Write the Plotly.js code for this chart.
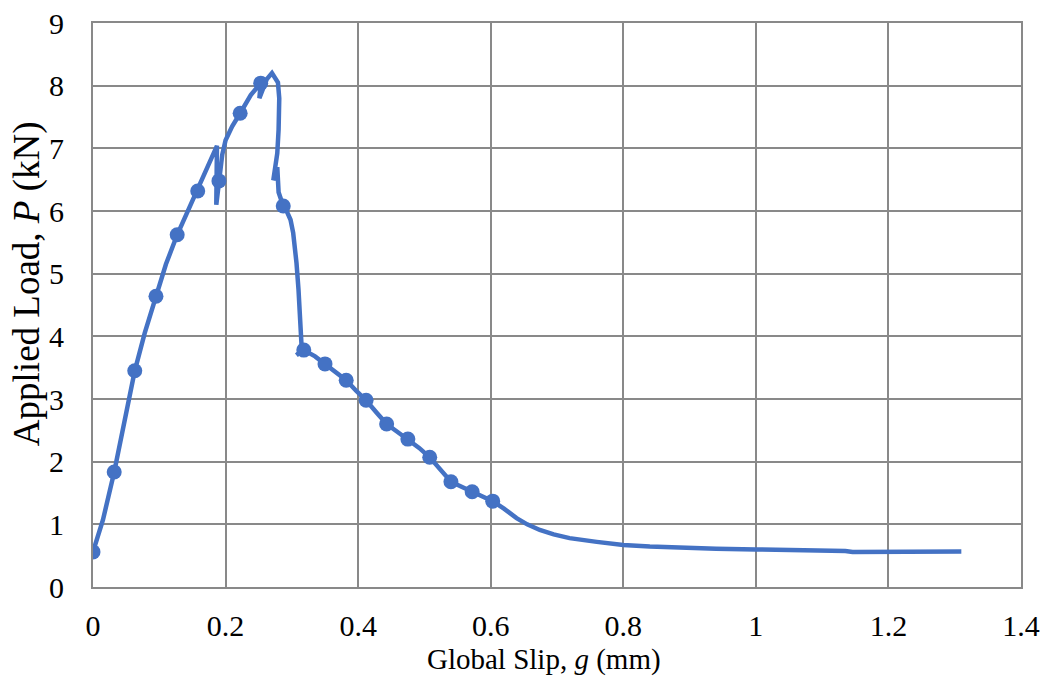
<!DOCTYPE html>
<html>
<head>
<meta charset="utf-8">
<script src="https://cdn.plot.ly/plotly-3.0.1.min.js"></script>
<style>html,body{margin:0;padding:0;background:#fff;}#chart{width:1047px;height:679px;}</style>
</head>
<body>
<div id="chart"></div>
<script>
// Measured curve: global slip (mm) and applied load (kN)
var slipLine = [0, 0.015, 0.032, 0.047, 0.063, 0.078, 0.095, 0.11, 0.127, 0.143, 0.158, 0.172, 0.187, 0.186, 0.19, 0.195, 0.2, 0.21, 0.222, 0.238, 0.253, 0.251, 0.262, 0.27, 0.279, 0.281, 0.28, 0.278, 0.272, 0.278, 0.28, 0.287, 0.293, 0.298, 0.302, 0.305, 0.307, 0.31, 0.312, 0.314, 0.315, 0.307, 0.318, 0.335, 0.35, 0.365, 0.382, 0.398, 0.412, 0.428, 0.443, 0.46, 0.475, 0.492, 0.508, 0.525, 0.54, 0.556, 0.572, 0.588, 0.603, 0.62, 0.639, 0.655, 0.674, 0.695, 0.719, 0.76, 0.8, 0.84, 0.885, 0.94, 1.0, 1.06, 1.122, 1.135, 1.146, 1.2, 1.26, 1.31];
var loadLine = [0.56, 1.07, 1.835, 2.6, 3.45, 4.05, 4.64, 5.15, 5.62, 6.0, 6.32, 6.65, 7.04, 6.1, 6.48, 6.9, 7.13, 7.35, 7.56, 7.85, 8.04, 7.8, 8.1, 8.2, 8.05, 7.8, 7.3, 6.92, 6.49, 6.7, 6.3, 6.08, 5.98, 5.86, 5.65, 5.4, 5.17, 4.75, 4.37, 3.94, 3.78, 3.70, 3.78, 3.68, 3.56, 3.42, 3.30, 3.12, 2.98, 2.78, 2.60, 2.47, 2.36, 2.22, 2.07, 1.85, 1.68, 1.6, 1.52, 1.45, 1.37, 1.25, 1.10, 1.0, 0.91, 0.84, 0.78, 0.72, 0.67, 0.645, 0.625, 0.61, 0.6, 0.59, 0.59, 0.575, 0.56, 0.56, 0.565, 0.565];
// Marker points
var slipMarks = [0, 0.032, 0.063, 0.095, 0.127, 0.158, 0.19, 0.222, 0.253, 0.287, 0.318, 0.35, 0.382, 0.412, 0.443, 0.475, 0.508, 0.54, 0.572, 0.603];
var loadMarks = [0.56, 1.835, 3.45, 4.64, 5.62, 6.32, 6.48, 7.56, 8.04, 6.08, 3.78, 3.56, 3.30, 2.98, 2.60, 2.36, 2.07, 1.68, 1.52, 1.37];
var xTicks = [0, 0.2, 0.4, 0.6, 0.8, 1, 1.2, 1.4];
var xTickText = ["0", "0.2", "0.4", "0.6", "0.8", "1", "1.2", "1.4"];
var yTicks = [0, 1, 2, 3, 4, 5, 6, 7, 8, 9];
var xTitle = 'Global Slip, <i>g</i> (mm)';
var yTitle = 'Applied Load, <i>P</i> (kN)';

var color = '#4472C4';
var font = 'Liberation Serif, Times New Roman, serif';
var traces = [
  {x: slipLine, y: loadLine, mode: 'lines', type: 'scatter', line: {color: color, width: 4.5}, hoverinfo: 'skip'},
  {x: slipMarks, y: loadMarks, mode: 'markers', type: 'scatter', marker: {color: color, size: 15}}
];
var layout = {
  width: 1047, height: 679,
  margin: {l: 93, r: 26, t: 23, b: 92},
  paper_bgcolor: '#fff', plot_bgcolor: '#fff',
  showlegend: false,
  font: {family: font, size: 30, color: '#000'},
  xaxis: {
    range: [0, 1.4], tickvals: xTicks, ticktext: xTickText,
    showgrid: true, gridcolor: '#898989', gridwidth: 2,
    zeroline: false, showline: true, linecolor: '#898989', linewidth: 2, mirror: true,
    ticks: 'outside', ticklen: 11, tickcolor: 'rgba(0,0,0,0)',
    tickfont: {family: font, size: 30}
  },
  yaxis: {
    range: [0, 9], tickvals: yTicks,
    showgrid: true, gridcolor: '#898989', gridwidth: 2,
    zeroline: false, showline: true, linecolor: '#898989', linewidth: 2, mirror: true,
    ticks: 'outside', ticklen: 21, tickcolor: 'rgba(0,0,0,0)',
    tickfont: {family: font, size: 30}
  },
  annotations: [
    {text: xTitle, xref: 'paper', yref: 'paper', x: 0.486, y: -0.1294, xanchor: 'center', yanchor: 'middle', showarrow: false, font: {family: font, size: 29}},
    {text: yTitle, xref: 'paper', yref: 'paper', x: -0.0711, y: 0.537, xanchor: 'center', yanchor: 'middle', textangle: -90, showarrow: false, font: {family: font, size: 37}}
  ]
};
Plotly.newPlot('chart', traces, layout, {displayModeBar: false, staticPlot: true});
</script>
</body>
</html>
